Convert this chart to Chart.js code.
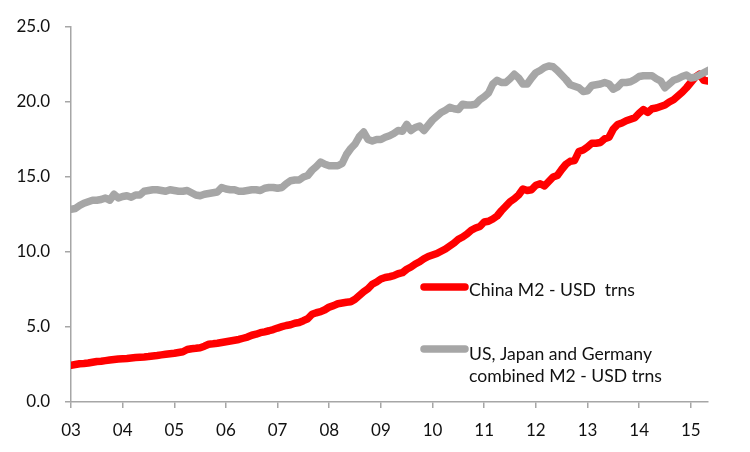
<!DOCTYPE html>
<html>
<head>
<meta charset="utf-8">
<script src="https://cdn.jsdelivr.net/npm/chart.js@4.4.0/dist/chart.umd.min.js"></script>
<style>
html,body{margin:0;padding:0;background:#fff;}
#wrap{width:750px;height:452px;position:relative;}
</style>
</head>
<body>
<div id="wrap"><canvas id="c" width="750" height="452"></canvas></div>
<script>
// Monthly data, Jan 2003 .. May 2015 (index 0 = Jan 2003)
const yearLabels = ['03','04','05','06','07','08','09','10','11','12','13','14','15'];
const chinaLabel = 'China M2 - USD  trns';
const g3Label = ['US, Japan and Germany', 'combined M2 - USD trns'];
const yTicks = [0, 5, 10, 15, 20, 25];

const chinaM2 = [
  2.45,2.50,2.55,2.57,2.60,2.65,2.70,2.72,2.76,2.80,2.83,2.86,
  2.88,2.90,2.93,2.96,2.98,3.00,3.03,3.07,3.10,3.14,3.18,3.22,
  3.25,3.30,3.35,3.50,3.55,3.58,3.62,3.72,3.85,3.88,3.92,3.97,
  4.02,4.07,4.12,4.17,4.25,4.33,4.45,4.52,4.62,4.68,4.75,4.83,
  4.93,5.02,5.10,5.15,5.25,5.30,5.42,5.55,5.85,5.95,6.02,6.15,
  6.33,6.42,6.55,6.60,6.65,6.68,6.85,7.10,7.35,7.55,7.85,8.00,
  8.20,8.30,8.35,8.42,8.55,8.62,8.85,9.00,9.20,9.35,9.55,9.70,
  9.80,9.90,10.05,10.20,10.40,10.60,10.85,11.00,11.20,11.45,11.60,11.70,
  12.00,12.05,12.20,12.40,12.75,13.05,13.35,13.55,13.80,14.20,14.10,14.15,
  14.45,14.55,14.40,14.70,15.00,15.10,15.50,15.85,16.05,16.10,16.70,16.80,
  17.00,17.25,17.25,17.30,17.55,17.65,18.20,18.50,18.60,18.75,18.85,18.95,
  19.25,19.50,19.30,19.55,19.60,19.70,19.80,20.00,20.15,20.40,20.65,20.95,
  21.30,21.65,21.85,21.45,21.40
];
const g3M2 = [
  12.85,12.90,13.10,13.25,13.35,13.45,13.45,13.50,13.60,13.45,13.85,13.60,
  13.70,13.75,13.65,13.80,13.80,14.05,14.10,14.15,14.15,14.10,14.05,14.15,
  14.10,14.05,14.05,14.10,13.95,13.80,13.75,13.85,13.90,13.95,14.00,14.30,
  14.20,14.15,14.15,14.05,14.05,14.10,14.15,14.15,14.10,14.25,14.30,14.30,
  14.25,14.30,14.55,14.75,14.80,14.80,15.00,15.10,15.45,15.70,16.00,15.85,
  15.75,15.75,15.75,15.90,16.50,16.90,17.20,17.70,18.00,17.50,17.40,17.50,
  17.50,17.65,17.75,17.90,18.10,18.05,18.50,18.10,18.30,18.40,18.10,18.45,
  18.80,19.05,19.30,19.45,19.65,19.55,19.50,19.85,19.80,19.80,19.85,20.15,
  20.35,20.60,21.20,21.45,21.30,21.30,21.55,21.85,21.60,21.20,21.20,21.60,
  21.95,22.10,22.30,22.40,22.35,22.10,21.80,21.50,21.15,21.05,20.95,20.70,
  20.75,21.10,21.15,21.20,21.30,21.20,20.85,21.00,21.30,21.30,21.35,21.50,
  21.70,21.75,21.75,21.75,21.55,21.40,20.95,21.20,21.45,21.55,21.70,21.80,
  21.60,21.65,21.80,21.95,22.10
];

const toXY = arr => arr.map((v, i) => ({x: i, y: v}));

const FONT = 'Lato, "Open Sans", sans-serif';
const AXIS = '#a6a6a6';

const legendPlugin = {
  id: 'insideLegend',
  afterDatasetsDraw(chart) {
    const ctx = chart.ctx;
    const items = [
      {ds: chart.data.datasets[0], lines: [chinaLabel], y: 287, ty: [290]},
      {ds: chart.data.datasets[1], lines: g3Label, y: 349, ty: [354, 376.5]}
    ];
    ctx.save();
    ctx.font = '17.6px ' + FONT;
    ctx.fillStyle = '#111';
    ctx.textBaseline = 'middle';
    ctx.textAlign = 'left';
    items.forEach(it => {
      ctx.beginPath();
      ctx.strokeStyle = it.ds.borderColor;
      ctx.lineWidth = 7.5;
      ctx.lineCap = 'round';
      ctx.moveTo(424, it.y);
      ctx.lineTo(465, it.y);
      ctx.stroke();
      it.lines.forEach((t, k) => ctx.fillText(t, 469, it.ty[k]));
    });
    ctx.restore();
  }
};

new Chart(document.getElementById('c'), {
  type: 'line',
  data: {
    datasets: [
      {label: chinaLabel, data: toXY(chinaM2), borderColor: '#ff0000', borderWidth: 7.5,
       pointRadius: 0, tension: 0, order: 1, borderJoinStyle: 'round', borderCapStyle: 'round'},
      {label: g3Label.join(' '), data: toXY(g3M2), borderColor: '#a6a6a6', borderWidth: 7.5,
       pointRadius: 0, tension: 0, order: 0, borderJoinStyle: 'round', borderCapStyle: 'round'}
    ]
  },
  options: {
    responsive: false,
    animation: false,
    layout: {padding: {left: 0, right: 42, top: 27, bottom: 0}},
    plugins: {legend: {display: false}, tooltip: {enabled: false}},
    scales: {
      x: {
        type: 'linear', min: 0, max: 148,
        afterFit(s) { s.height = 50; },
        border: {color: AXIS, width: 1.5},
        grid: {display: true, drawOnChartArea: false, drawTicks: true, tickLength: 6, color: AXIS, lineWidth: 1.5},
        ticks: {
          stepSize: 12, includeBounds: false, autoSkip: false, maxRotation: 0,
          padding: 12, color: '#111', font: {family: FONT, size: 17},
          callback: v => yearLabels[v / 12]
        }
      },
      y: {
        min: 0, max: 25,
        afterFit(s) { s.width = 71; },
        afterBuildTicks(s) { s.ticks = yTicks.map(v => ({value: v})); },
        border: {color: AXIS, width: 1.5},
        grid: {display: true, drawOnChartArea: false, drawTicks: true, tickLength: 6, color: AXIS, lineWidth: 1.5},
        ticks: {
          padding: 15, color: '#111', font: {family: FONT, size: 17},
          callback: v => Number(v).toFixed(1)
        }
      }
    }
  },
  plugins: [legendPlugin]
});
</script>
</body>
</html>
